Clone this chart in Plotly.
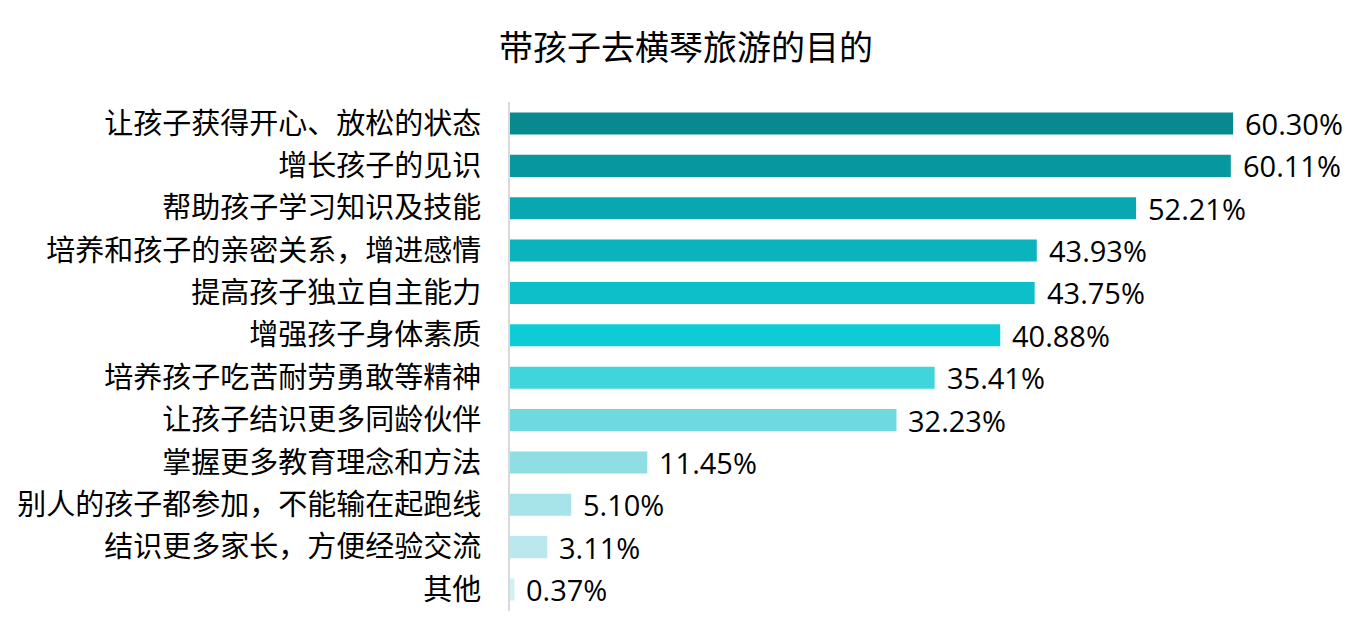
import plotly.graph_objects as go

categories = [
    "让孩子获得开心、放松的状态",
    "增长孩子的见识",
    "帮助孩子学习知识及技能",
    "培养和孩子的亲密关系，增进感情",
    "提高孩子独立自主能力",
    "增强孩子身体素质",
    "培养孩子吃苦耐劳勇敢等精神",
    "让孩子结识更多同龄伙伴",
    "掌握更多教育理念和方法",
    "别人的孩子都参加，不能输在起跑线",
    "结识更多家长，方便经验交流",
    "其他",
]
values = [60.30, 60.11, 52.21, 43.93, 43.75, 40.88, 35.41, 32.23, 11.45, 5.10, 3.11, 0.37]
colors = [
    "#07898E", "#07979E", "#08A7B1", "#0BB3BC", "#0CBFC8", "#0DCCD5",
    "#40D4DC", "#6FD9E1", "#8EDEE3", "#A6E4E9", "#BAE8EC", "#D1F0F2",
]
title = "带孩子去横琴旅游的目的"

fig = go.Figure(go.Bar(
    x=values, y=categories, orientation="h",
    marker=dict(color=colors, line=dict(width=0)),
    hoverinfo="x+y",
))

for c, v in zip(categories, values):
    fig.add_annotation(
        x=v, y=c, text=f"{v:.2f}%", showarrow=False,
        xanchor="left", yanchor="middle", xshift=10,
        font=dict(family="Open Sans, Noto Sans", size=29, color="#000000"),
    )

fig.update_layout(
    width=1372, height=634,
    margin=dict(l=510, r=22, t=102, b=23, autoexpand=False),
    paper_bgcolor="white", plot_bgcolor="white",
    bargap=0.48,
    showlegend=False,
    title=dict(
        text=title, x=686 / 1372, xref="container", xanchor="center",
        y=1 - 48.5 / 634, yanchor="middle",
        font=dict(family="Noto Sans CJK SC", size=34, color="#000000"),
    ),
    xaxis=dict(range=[0, 70.05], visible=False, showgrid=False, zeroline=False,
               automargin=False),
    yaxis=dict(
        categoryorder="array", categoryarray=categories, autorange="reversed",
        showline=True, linecolor="#D9D9D9", linewidth=2,
        showgrid=False, zeroline=False, ticks="",
        ticklabelstandoff=21, automargin=False,
        tickfont=dict(family="Noto Sans CJK SC", size=29, color="#000000"),
    ),
)

fig.write_html("out.html", config={"displayModeBar": False},
               post_script="document.body.style.margin='0';")
